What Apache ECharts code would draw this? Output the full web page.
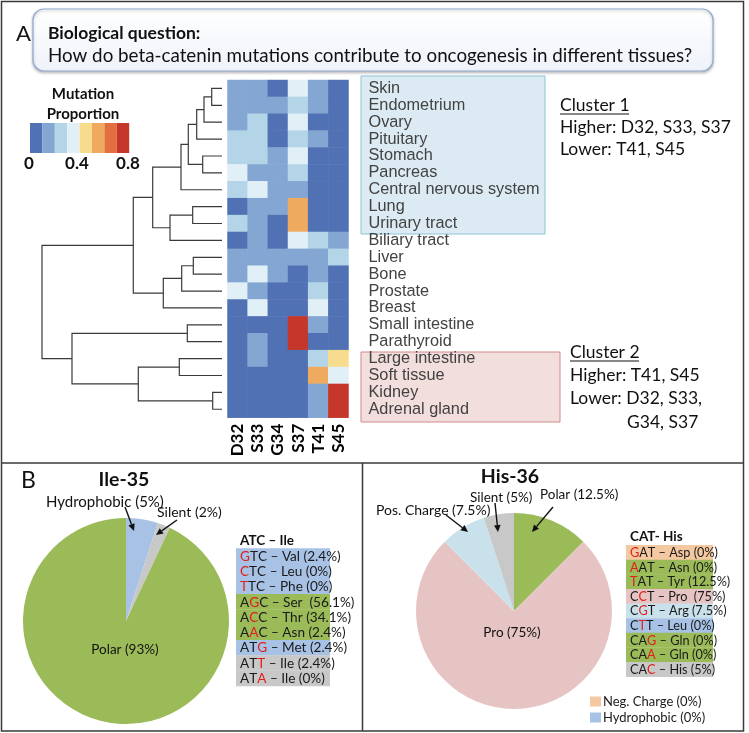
<!DOCTYPE html>
<html><head><meta charset="utf-8">
<script src="https://cdn.jsdelivr.net/npm/echarts@6/dist/echarts.min.js"></script>
<style>html,body{margin:0;padding:0;background:#fff}#c{width:749px;height:733px}</style>
</head><body><div id="c"></div><script>
// ---------------- DATA ----------------
const tissues = ['Skin','Endometrium','Ovary','Pituitary','Stomach','Pancreas','Central nervous system','Lung','Urinary tract','Biliary tract','Liver','Bone','Prostate','Breast','Small intestine','Parathyroid','Large intestine','Soft tissue','Kidney','Adrenal gland'];
const mutations = ['D32','S33','G34','S37','T41','S45'];
// mutation proportion per tissue (order of `tissues`)
const d32 = [0.15,0.15,0.15,0.25,0.25,0.35,0.25,0.05,0.25,0.05,0.15,0.15,0.35,0.05,0.05,0.05,0.05,0.05,0.05,0.05];
const s33 = [0.15,0.15,0.25,0.25,0.25,0.15,0.35,0.15,0.15,0.15,0.15,0.35,0.15,0.35,0.05,0.15,0.15,0.05,0.05,0.05];
const g34 = [0.05,0.15,0.05,0.05,0.15,0.15,0.15,0.15,0.05,0.05,0.15,0.15,0.05,0.05,0.05,0.05,0.05,0.05,0.05,0.05];
const s37 = [0.35,0.25,0.35,0.25,0.35,0.25,0.15,0.55,0.55,0.35,0.15,0.05,0.05,0.05,0.75,0.75,0.05,0.05,0.05,0.05];
const t41 = [0.15,0.15,0.05,0.15,0.05,0.05,0.05,0.05,0.05,0.25,0.15,0.15,0.25,0.35,0.15,0.05,0.25,0.55,0.15,0.15];
const s45 = [0.05,0.05,0.05,0.05,0.05,0.05,0.05,0.05,0.05,0.15,0.25,0.05,0.05,0.05,0.05,0.05,0.45,0.35,0.75,0.75];
const scaleBreaks = [0,0.1,0.2,0.3,0.4,0.5,0.6,0.7,0.8];
const scaleColors = ['#5071b4','#84a6d2','#b4d4e8','#e1eff6','#f8dc8e','#eeaa5f','#e2703f','#c4372a'];
const scaleTicks = ['0','0.4','0.8'];
// dendrogram merges: [childA, childB, height]; children 0-19 = tissues, 20+ = earlier merges
const merges = [
  [0,1,0.103],[20,2,0.18],[21,3,0.253],[4,5,0.193],[22,23,0.337],[24,6,0.41],
  [7,8,0.293],[26,9,0.52],[25,27,0.693],[10,11,0.287],[29,12,0.403],[30,13,0.587],
  [28,31,0.887],[14,15,0.347],[16,17,0.427],[18,19,0.093],[34,35,0.837],[33,36,1.5],[32,37,1.8]
];
// Panel B: Ile-35
const ileClasses = ['Hydrophobic','Silent','Polar'];
const ileShares = [5,2,93];
const ileCodons = ['GTC','CTC','TTC','AGC','ACC','AAC','ATG','ATT','ATA'];
const ileAA = ['Val','Leu','Phe','Ser ','Thr','Asn','Met','Ile','Ile'];
const ilePct = [2.4,0,0,56.1,34.1,2.4,2.4,2.4,0];
const ileMutPos = [0,0,0,1,1,1,2,2,2];
const ileRowClass = ['Hydrophobic','Hydrophobic','Hydrophobic','Polar','Polar','Polar','Hydrophobic','Silent','Silent'];
// Panel B: His-36
const hisClasses = ['Polar','Pro','Pos. Charge','Silent','Neg. Charge','Hydrophobic'];
const hisShares = [12.5,75,7.5,5,0,0];
const hisCodons = ['GAT','AAT','TAT','CCT','CGT','CTT','CAG','CAA','CAC'];
const hisAA = ['Asp','Asn','Tyr','Pro ','Arg','Leu','Gln','Gln','His'];
const hisPct = [0,0,12.5,75,7.5,0,0,0,5];
const hisMutPos = [0,0,0,1,1,1,2,2,2];
const hisRowClass = ['Neg. Charge','Polar','Polar','Pro','Pos. Charge','Hydrophobic','Polar','Polar','Silent'];

const classColor = {'Hydrophobic':'#a8c2e6','Silent':'#c8c8c8','Polar':'#9bbb59','Pro':'#e6c4c3','Pos. Charge':'#c9e1eb','Neg. Charge':'#f4c8a0'};

// ---------------- BUILD ----------------
const cols = [d32,s33,g34,s37,t41,s45];
const heatData = [];
cols.forEach((arr,ci)=>arr.forEach((v,ri)=>heatData.push([ci,ri,v])));

const pos = tissues.map((t,i)=>({h:0,y:i}));
const dendro = [];
merges.forEach(([a,b,h])=>{const A=pos[a],B=pos[b];
  dendro.push({coords:[[A.h,A.y],[h,A.y],[h,B.y],[B.h,B.y]]});
  pos.push({h:h,y:(A.y+B.y)/2});});

const pieces = scaleColors.map((c,i)=>({min:scaleBreaks[i],max:scaleBreaks[i+1],color:c}));

const CAL = 'Lato, "Open Sans", sans-serif';
const G = [];
function txt(x,y,text,o){o=o||{};G.push({type:'text',x:x,y:y,z:o.z||50,style:Object.assign({text:text,fill:'#111',font:(o.weight||'normal')+' '+(o.size||13)+'px '+(o.family||CAL),textAlign:o.align||'left',textVerticalAlign:'middle'},o.style||{})});}
function arrow(x1,y1,x2,y2){const a=Math.atan2(y2-y1,x2-x1),L=7,W=3.3;const bx=x2-L*Math.cos(a),by=y2-L*Math.sin(a);
  G.push({type:'line',z:60,shape:{x1:x1,y1:y1,x2:bx,y2:by},style:{stroke:'#111',lineWidth:1.4}});
  G.push({type:'polygon',z:60,shape:{points:[[x2,y2],[bx-W*Math.sin(a),by+W*Math.cos(a)],[bx+W*Math.sin(a),by-W*Math.cos(a)]]},style:{fill:'#111'}});}
function codonTable(x,y,w,rh,title,codons,aa,pct,mut,cls,size){
  txt(x+4,y-8,title,{weight:'bold',size:13.5});
  codons.forEach((c,i)=>{
    G.push({type:'rect',z:40,shape:{x:x,y:y+i*rh,width:w,height:rh+0.4},style:{fill:classColor[cls[i]]}});
    let t='';
    c.split('').forEach((ch,k)=>{t+= (k===mut[i]?'{r|'+ch+'}':'{n|'+ch+'}');});
    t+='{n| – '+aa[i]+' ('+pct[i]+'%)}';
    G.push({type:'text',z:50,x:x+4,y:y+i*rh+rh/2+0.5,style:{text:t,textVerticalAlign:'middle',font:size+'px '+CAL,
      rich:{n:{fill:'#1a1a1a',fontSize:size,fontFamily:CAL},r:{fill:'#e0201b',fontSize:size,fontFamily:CAL}}}});
  });
}

// frame & boxes
G.push({type:'rect',z:1,shape:{x:1.5,y:1.5,width:742,height:729.5},style:{fill:'none',stroke:'#3a3a3a',lineWidth:1.5}});
G.push({type:'line',z:1,shape:{x1:1.5,y1:463,x2:743.5,y2:463},style:{stroke:'#3a3a3a',lineWidth:1.5}});
G.push({type:'line',z:1,shape:{x1:362.5,y1:463,x2:362.5,y2:731},style:{stroke:'#3a3a3a',lineWidth:1.5}});
G.push({type:'rect',z:1,shape:{x:33,y:9,width:680,height:62,r:11},style:{fill:{type:'linear',x:0,y:0,x2:0,y2:1,colorStops:[{offset:0,color:'#ffffff'},{offset:1,color:'#eef3fa'}]},stroke:'#92abd2',lineWidth:1.2,shadowBlur:3,shadowColor:'rgba(0,0,0,0.25)',shadowOffsetY:1.5}});
G.push({type:'rect',z:-5,shape:{x:361,y:76,width:184,height:158},style:{fill:'#dcebf3',stroke:'#8cc3d6',lineWidth:1}});
G.push({type:'rect',z:-5,shape:{x:361,y:352,width:199,height:70},style:{fill:'#f3dede',stroke:'#d08b8b',lineWidth:1}});
txt(16,34,'A',{size:22});
txt(48,33,'Biological question:',{weight:'bold',size:17.5});
txt(48,56,'How do beta-catenin mutations contribute to oncogenesis in different tissues?',{size:18.8});
// colour key
txt(83,94,'Mutation',{weight:'bold',size:15,align:'center'});
txt(83,114,'Proportion',{weight:'bold',size:15,align:'center'});
[29,77,128].forEach((x,i)=>txt(x,164,scaleTicks[i],{weight:'bold',size:17,align:'center'}));
// cluster notes
txt(560,105,'Cluster 1',{size:17.5});
G.push({type:'line',z:50,shape:{x1:560,y1:114,x2:629,y2:114},style:{stroke:'#111',lineWidth:1}});
txt(560,127,'Higher: D32, S33, S37',{size:17.5});
txt(560,149,'Lower: T41, S45',{size:17.5});
txt(570,352,'Cluster 2',{size:17.5});
G.push({type:'line',z:50,shape:{x1:570,y1:361,x2:639,y2:361},style:{stroke:'#111',lineWidth:1}});
txt(570,375,'Higher: T41, S45',{size:17.5});
txt(570,398,'Lower: D32, S33,',{size:17.5});
txt(627,422,'G34, S37',{size:17.5});
// panel B
txt(21,481,'B',{size:23});
txt(124,480,'Ile-35',{weight:'bold',size:19.5,align:'center'});
txt(510,477,'His-36',{weight:'bold',size:19.5,align:'center'});
txt(46,502,ileClasses[0]+' ('+ileShares[0]+'%)',{size:15});
txt(157,512,ileClasses[1]+' ('+ileShares[1]+'%)',{size:14});
txt(125,650,ileClasses[2]+' ('+ileShares[2]+'%)',{size:13.5,align:'center'});
arrow(125,507,134,531);
arrow(177,520,156,535);
txt(376,510,hisClasses[2]+' ('+hisShares[2]+'%)',{size:14});
txt(470,498,hisClasses[3]+' ('+hisShares[3]+'%)',{size:13.5});
txt(540,495,hisClasses[0]+' ('+hisShares[0]+'%)',{size:13.5});
txt(512,633,hisClasses[1]+' ('+hisShares[1]+'%)',{size:13.5,align:'center'});
arrow(446,515,468,532);
arrow(495,503,498,532);
arrow(553,507,532,532);
codonTable(236,548.3,94,15.27,'ATC – Ile',ileCodons,ileAA,ilePct,ileMutPos,ileRowClass,13.6);
codonTable(626,545,87,14.63,'CAT- His',hisCodons,hisAA,hisPct,hisMutPos,hisRowClass,12.7);

const chart = echarts.init(document.getElementById('c'),null,{renderer:'canvas'});
chart.setOption({
  animation:false,
  backgroundColor:'#fff',
  grid:[{left:227.5,top:80,width:121,height:337.7,containLabel:false},
        {left:42,top:80,width:180,height:337.7,containLabel:false}],
  xAxis:[{type:'category',data:mutations,gridIndex:0,position:'bottom',axisLine:{show:false},axisTick:{show:false},splitLine:{show:false},
          axisLabel:{interval:0,rotate:90,margin:6,color:'#000',fontWeight:'bold',fontSize:17,fontFamily:CAL}},
         {type:'value',gridIndex:1,min:0,max:1.8,inverse:true,show:false}],
  yAxis:[{type:'category',data:tissues,gridIndex:0,inverse:true,position:'right',axisLine:{show:false},axisTick:{show:false},splitLine:{show:false},
          axisLabel:{interval:0,margin:20,color:'#424242',fontSize:16.3,fontFamily:'"Liberation Sans", Arial, sans-serif'}},
         {type:'value',gridIndex:1,min:-0.5,max:19.5,inverse:true,show:false}],
  visualMap:{type:'piecewise',seriesIndex:0,pieces:pieces,orient:'horizontal',left:30,top:123,itemWidth:12.4,itemHeight:30,itemGap:0,
             showLabel:false,itemSymbol:'rect',padding:0,selectedMode:false,hoverLink:false},
  legend:{data:['Neg. Charge','Hydrophobic'],orient:'vertical',left:590,top:695,itemWidth:11,itemHeight:10,itemGap:3,icon:'rect',
          selectedMode:false,padding:0,textStyle:{fontSize:13,fontFamily:CAL,color:'#1a1a1a',padding:[0,0,0,-3]},
          formatter:n=>n+' ('+hisShares[hisClasses.indexOf(n)]+'%)'},
  series:[
    {type:'heatmap',xAxisIndex:0,yAxisIndex:0,data:heatData,itemStyle:{borderWidth:0},emphasis:{disabled:true}},
    {type:'lines',coordinateSystem:'cartesian2d',xAxisIndex:1,yAxisIndex:1,polyline:true,data:dendro,silent:true,
     lineStyle:{color:'#3a3a3a',width:1.2,opacity:1}},
    {type:'pie',center:[126,621],radius:103,startAngle:90,clockwise:true,label:{show:false},labelLine:{show:false},silent:true,
     itemStyle:{borderWidth:0},data:ileClasses.map((n,i)=>({name:n,value:ileShares[i],itemStyle:{color:classColor[n]}}))},
    {type:'pie',center:[514,611],radius:98,startAngle:90,clockwise:true,label:{show:false},labelLine:{show:false},silent:true,
     itemStyle:{borderWidth:0},stillShowZeroSum:false,
     data:hisClasses.map((n,i)=>({name:n,value:hisShares[i],itemStyle:{color:classColor[n]}}))}
  ],
  graphic:G
});
</script></body></html>
